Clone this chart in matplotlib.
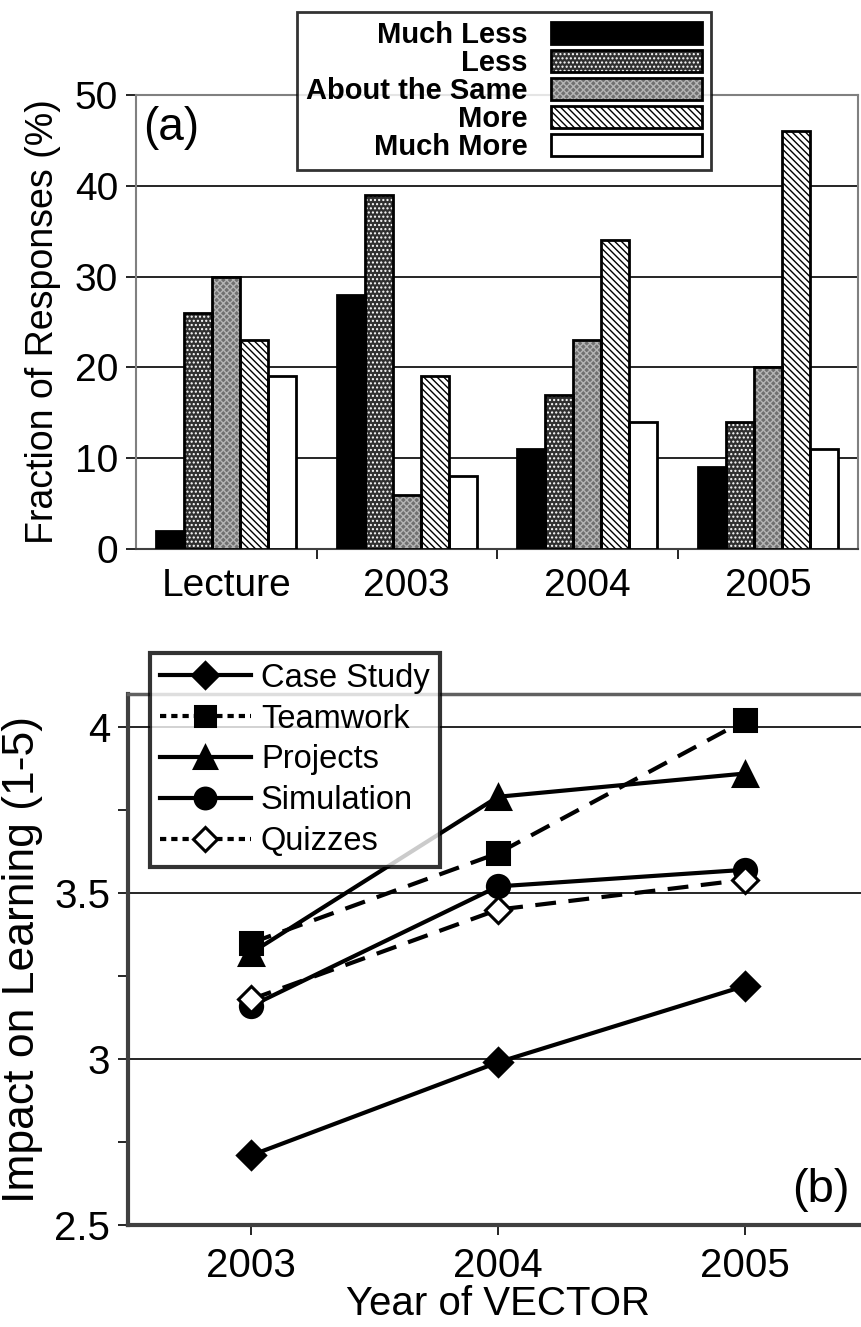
# Recreate two-panel VECTOR survey figure: (a) grouped bars, (b) impact lines
import matplotlib.pyplot as plt
from matplotlib.lines import Line2D
import numpy as np

FIG_W, FIG_H, DPI = 8.61, 13.27, 100
FONT = "Liberation Sans"

# ---- panel (a) data ----
groups = ["Lecture", "2003", "2004", "2005"]
responses = ["Much Less", "Less", "About the Same", "More", "Much More"]
much_less = [2, 28, 11, 9]
less = [26, 39, 17, 14]
about_same = [30, 6, 23, 20]
more = [23, 19, 34, 46]
much_more = [19, 8, 14, 11]
a_yticks = [0, 10, 20, 30, 40, 50]

# ---- panel (b) data ----
years = ["2003", "2004", "2005"]
case_study = [2.71, 2.99, 3.22]
teamwork = [3.35, 3.62, 4.02]
projects = [3.32, 3.79, 3.86]
simulation = [3.16, 3.52, 3.57]
quizzes = [3.18, 3.45, 3.54]
b_yticks = [2.5, 3.0, 3.5, 4.0]
b_ylabels = ["2.5", "3", "3.5", "4"]

plt.rcParams["font.family"] = [FONT, "DejaVu Sans"]
plt.rcParams["hatch.linewidth"] = 1.0

fig = plt.figure(figsize=(FIG_W, FIG_H), dpi=DPI)

# ================= panel (a) =================
ax = fig.add_axes([0.158, 0.5863, 0.8386, 0.3421])
series = [much_less, less, about_same, more, much_more]
# (face colour, hatch, hatch colour)
styles = [("black", None, None),
          ("#303030", "....", "white"),
          ("#707070", "xxxxx", "#b4b4b4"),
          ("white", "\\\\\\\\\\", "black"),
          ("white", None, None)]
width = 0.155
x = np.arange(len(groups))
handles = []
for i, (vals, (face, hatch, hcol)) in enumerate(zip(series, styles)):
    pos = x + (i - 2) * width
    parts = [ax.bar(pos, vals, width, color=face, linewidth=0, zorder=3)]
    if hatch:
        parts.append(ax.bar(pos, vals, width, color="none", edgecolor=hcol,
                            hatch=hatch, linewidth=0, zorder=3))
    parts.append(ax.bar(pos, vals, width, fill=False, edgecolor="black",
                        linewidth=2, zorder=4))
    handles.append(tuple(parts))

ax.set_xlim(-0.5, 3.5)
ax.set_ylim(0, 50)
ax.set_yticks(a_yticks)
ax.set_xticks(x)
ax.set_xticklabels(groups)
ax.set_xticks(x[:-1] + 0.5, minor=True)
ax.tick_params(axis="x", which="major", length=0, pad=14, labelsize=28)
ax.tick_params(axis="x", which="minor", length=7, width=1.2, direction="out")
ax.tick_params(axis="y", length=7, width=1.2, labelsize=28, pad=6)
ax.yaxis.grid(True, color="black", linewidth=1.2, zorder=0)
ax.set_axisbelow(True)
for side in ["top", "right", "left", "bottom"]:
    ax.spines[side].set_color("#808080")
    ax.spines[side].set_linewidth(1.5)
ax.spines["bottom"].set_color("#404040")
ax.set_ylabel("Fraction of Responses (%)", fontsize=27, labelpad=10)
ax.text(0.01, 0.975, "(a)", transform=ax.transAxes, fontsize=33,
        ha="left", va="top")

leg = ax.legend(handles, responses, loc="upper left",
                bbox_to_anchor=(297 / 861, 1 - 12 / 1327),
                bbox_transform=fig.transFigure, borderaxespad=0,
                markerfirst=False, prop={"weight": "bold", "size": 21},
                handlelength=5.2, handleheight=0.78, labelspacing=0.0,
                handletextpad=0.8, borderpad=0.3, frameon=True,
                fancybox=False)
leg.get_frame().set_edgecolor("black")
leg.get_frame().set_linewidth(2)
leg.set_zorder(10)

# ================= panel (b) =================
bx = fig.add_axes([0.1487, 0.0769, 0.8595, 0.4002])
xb = np.arange(len(years))
line_kw = dict(color="black", linewidth=3, markeredgewidth=2.2,
               markeredgecolor="black", zorder=4)
dash = (0, (5, 3))
lines_b = [
    ("Case Study", case_study, "-", "D", "black", 14),
    ("Teamwork", teamwork, dash, "s", "black", 16),
    ("Projects", projects, "-", "^", "black", 17),
    ("Simulation", simulation, "-", "o", "black", 16),
    ("Quizzes", quizzes, dash, "D", "white", 13),
]
leg_handles = []
for name, vals, ls, mk, mfc, ms in lines_b:
    bx.plot(xb, vals, linestyle=ls, marker=mk, markerfacecolor=mfc,
            markersize=ms, **line_kw)
    leg_ls = (0, (1.5, 1.2)) if ls == dash else "-"
    leg_handles.append(Line2D([], [], linestyle=leg_ls, marker=mk,
                              markerfacecolor=mfc, markersize=ms - 1,
                              color="black", linewidth=3,
                              markeredgewidth=2.2, markeredgecolor="black"))

bx.set_xlim(-0.5, 2.5)
bx.set_ylim(2.5, 4.1)
bx.set_xticks(xb)
bx.set_xticklabels(years)
bx.set_yticks(b_yticks)
bx.set_yticklabels(b_ylabels)
bx.set_yticks(np.arange(2.75, 4.0, 0.5), minor=True)
bx.tick_params(axis="both", which="both", length=7, width=1.2,
               direction="out", labelsize=29)
bx.tick_params(axis="x", pad=9)
bx.tick_params(axis="y", pad=6)
bx.yaxis.grid(True, which="major", color="black", linewidth=1.2, zorder=0)
bx.set_axisbelow(True)
for side in ["left", "bottom"]:
    bx.spines[side].set_linewidth(3)
    bx.spines[side].set_color("#404040")
bx.spines["top"].set_linewidth(2.5)
bx.spines["top"].set_color("#606060")
bx.spines["right"].set_visible(False)
bx.set_xlabel("Year of VECTOR", fontsize=29, labelpad=0)
bx.set_ylabel("Impact on Learning (1-5)", fontsize=32, labelpad=8)
bx.text(0.975, 0.025, "(b)", transform=bx.transAxes, fontsize=34,
        ha="right", va="bottom")

legb = bx.legend(leg_handles, [l[0] for l in lines_b], loc="upper left",
                 bbox_to_anchor=(150 / 861, 1 - 653 / 1327),
                 bbox_transform=fig.transFigure, borderaxespad=0,
                 prop={"size": 23.5}, handlelength=2.8, handletextpad=0.3,
                 labelspacing=0.3, borderpad=0.3, fancybox=False,
                 frameon=True)
legb.get_frame().set_edgecolor("black")
legb.get_frame().set_linewidth(3)
legb.set_zorder(10)

fig.savefig("out.png", dpi=DPI)
